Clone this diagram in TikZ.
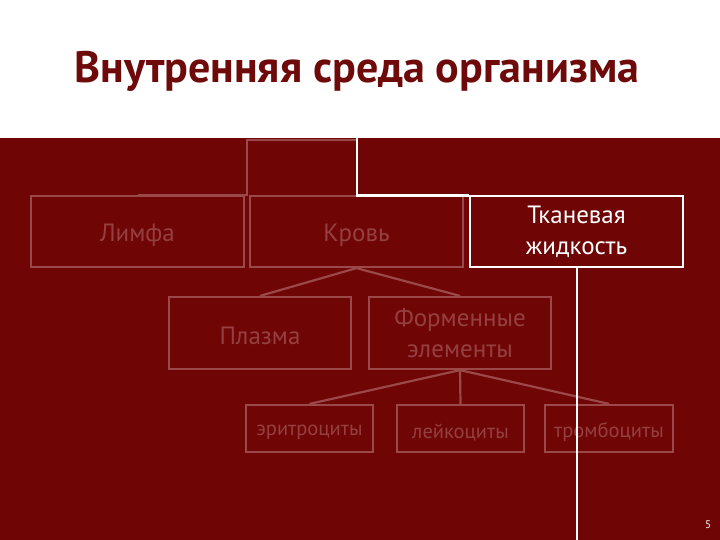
\documentclass[tikz,border=0pt]{standalone}
\usepackage{fontspec}
\setmainfont{PT Sans}
\newcommand{\dn}[2]{\raisebox{-#1pt}[\height][\depth]{#2}}
\begin{document}
\begin{tikzpicture}[x=1pt,y=-1pt,
  faint/.style={draw=fline, line width=2.2pt},
  fbox/.style={faint, fill=bgred, text=ftext, align=center, inner sep=0pt, font=\fontsize{25}{31}\selectfont},
  sbox/.style={fbox, font=\fontsize{20.5}{22}\selectfont},
  wline/.style={draw=white, line width=2.4pt},
]
\definecolor{bgred}{HTML}{700505}
\definecolor{titlered}{HTML}{6E0A0A}
\definecolor{fline}{HTML}{9A4848}
\definecolor{ftext}{HTML}{944040}
\useasboundingbox (0,0) rectangle (720,540);
\fill[white] (0,0) rectangle (720,540);
\fill[bgred] (0,138) rectangle (720,540);
\node[text=titlered, font=\fontsize{44}{46}\selectfont\bfseries] (title) at (357,71) {Внутренняя среда организма};
% faint top connectors
\coordinate (t1) at (247,140);
\coordinate (t2) at (357,140);
\coordinate (t3) at (138,195);
\draw[faint] (t3) -- (247,195) -- (t1) -- (t2);
% white connector
\coordinate (w0) at (357,138);
\coordinate (w1) at (357,195.5);
\coordinate (wb) at (577,540);
% boxes
\node[fbox, minimum width=213pt, minimum height=71pt] (limfa) at (137.5,231.5) {\dn{4}{Лимфа}};
\node[fbox, minimum width=213pt, minimum height=71pt] (krov) at (356.5,231.5) {\dn{4}{Кровь}};
\node[fbox, draw=white, text=white, line width=2.4pt, minimum width=213pt, minimum height=71pt] (tkan) at (576.5,231.5) {Тканевая\\жидкость};
\draw[wline, line join=miter] (w0) -- (w1) -- (w1 -| tkan.west);
\node[fbox, minimum width=182pt, minimum height=72pt] (plazma) at (260,333) {\dn{2.5}{Плазма}};
\node[fbox, minimum width=182pt, minimum height=72pt] (form) at (460,333) {Форменные\\элементы};
\draw[faint] (krov.south) -- (plazma.north);
\draw[faint] (krov.south) -- (form.north);
\node[sbox, minimum width=127pt, minimum height=47pt] (eri) at (309.5,428.5) {\dn{4}{эритроциты}};
\node[sbox, minimum width=127pt, minimum height=47pt] (ley) at (460.5,428.5) {\dn{4}{лейкоциты}};
\node[sbox, minimum width=128pt, minimum height=47pt] (trom) at (609,428.5) {\dn{4}{тромбоциты}};
\draw[faint] (form.south) -- (eri.north);
\draw[faint] (form.south) -- (ley.north);
\draw[faint] (form.south) -- (trom.north);
\draw[wline] (tkan.south -| wb) -- (wb);
\node[text=white, font=\fontsize{11}{12}\selectfont] (pg) at (708,525) {5};
\end{tikzpicture}
\end{document}
